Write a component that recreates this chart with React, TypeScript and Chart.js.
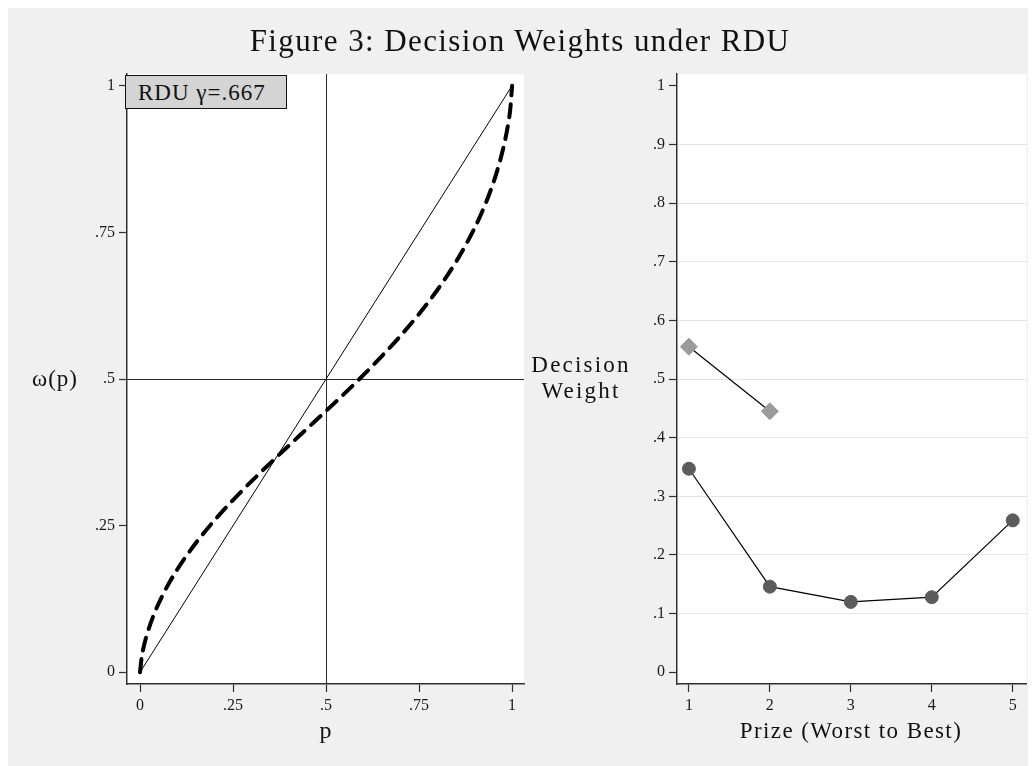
import React, { useEffect, useRef } from 'react';
import { Chart, registerables } from 'chart.js';

Chart.register(...registerables);

const SERIF = "'Liberation Serif', 'Times New Roman', serif";

// Left panel: probability weighting function vs. the 45-degree line
const probGrid = [0, 0.005, 0.01, 0.02, 0.04, 0.06, 0.08, 0.1, 0.15, 0.2, 0.25, 0.3, 0.35, 0.4, 0.45, 0.5, 0.55, 0.6, 0.65, 0.7, 0.75, 0.8, 0.85, 0.9, 0.92, 0.94, 0.96, 0.98, 0.99, 0.995, 1];
const weightedProb = [0, 0.0281, 0.0437, 0.0674, 0.1027, 0.1305, 0.1542, 0.1752, 0.2203, 0.2589, 0.2936, 0.3259, 0.3566, 0.3865, 0.416, 0.4455, 0.4755, 0.5065, 0.539, 0.5735, 0.611, 0.6526, 0.7005, 0.7584, 0.786, 0.8175, 0.8552, 0.9038, 0.937, 0.9592, 1];
const identityProb = [0, 1];
const crossAt = 0.5;
const curveLabel = 'RDU γ=.667';

const pTicks = [0, 0.25, 0.5, 0.75, 1];
const pTickLabels = ['0', '.25', '.5', '.75', '1'];

// Right panel: decision weights by prize rank
const prizesTwo = [1, 2];
const weightsTwo = [0.555, 0.445];
const prizesFive = [1, 2, 3, 4, 5];
const weightsFive = [0.347, 0.146, 0.12, 0.128, 0.259];

const prizeTicks = [1, 2, 3, 4, 5];
const prizeTickLabels = ['1', '2', '3', '4', '5'];
const weightTicks = [0, 0.1, 0.2, 0.3, 0.4, 0.5, 0.6, 0.7, 0.8, 0.9, 1];
const weightTickLabels = ['0', '.1', '.2', '.3', '.4', '.5', '.6', '.7', '.8', '.9', '1'];

const TICK_FONT = { family: SERIF, size: 16 };

const whitePlot = {
  id: 'whitePlot',
  beforeDraw(chart: any) {
    const { ctx, chartArea: a } = chart;
    ctx.save();
    ctx.fillStyle = '#ffffff';
    ctx.fillRect(a.left, a.top, a.right - a.left, a.bottom - a.top);
    ctx.restore();
  },
};

const crosshair = {
  id: 'crosshair',
  beforeDatasetsDraw(chart: any) {
    const { ctx, chartArea: a, scales } = chart;
    const x = Math.round(scales.x.getPixelForValue(crossAt)) + 0.5;
    const y = Math.round(scales.y.getPixelForValue(crossAt)) + 0.5;
    ctx.save();
    ctx.strokeStyle = '#2a2a2a';
    ctx.lineWidth = 1;
    ctx.beginPath();
    ctx.moveTo(x, a.top);
    ctx.lineTo(x, a.bottom);
    ctx.moveTo(a.left, y);
    ctx.lineTo(a.right, y);
    ctx.stroke();
    ctx.restore();
  },
};

function fixedTicks(values: number[], labels: string[]) {
  return {
    afterBuildTicks: (scale: any) => {
      scale.ticks = values.map((v) => ({ value: v }));
    },
    ticks: {
      autoSkip: false,
      maxRotation: 0,
      font: TICK_FONT,
      color: '#1a1a1a',
      padding: 4,
      callback: (v: any) => labels[values.indexOf(Number(v))] ?? '',
    },
  };
}

function axisBorder() {
  return { display: true, color: '#303030', width: 1.5 };
}

function Label(props: { x: number; y: number; size: number; spacing: number; children: React.ReactNode; lh?: number }) {
  return (
    <div
      style={{
        position: 'absolute',
        left: props.x,
        top: props.y,
        transform: 'translate(-50%, -50%)',
        fontFamily: SERIF,
        fontSize: props.size,
        letterSpacing: props.spacing,
        lineHeight: `${props.lh ?? props.size}px`,
        color: '#111',
        whiteSpace: 'nowrap',
        textAlign: 'center',
      }}
    >
      {props.children}
    </div>
  );
}

export default function App() {
  const leftRef = useRef<HTMLCanvasElement>(null);
  const rightRef = useRef<HTMLCanvasElement>(null);

  useEffect(() => {
    const left = new Chart(leftRef.current as HTMLCanvasElement, {
      type: 'line',
      data: {
        datasets: [
          {
            label: curveLabel,
            data: probGrid.map((p, i) => ({ x: p, y: weightedProb[i] })),
            borderColor: '#000',
            borderWidth: 4,
            borderDash: [13, 9],
            borderCapStyle: 'round',
            cubicInterpolationMode: 'monotone',
            pointRadius: 0,
            fill: false,
            order: 0,
          },
          {
            label: 'identity',
            data: identityProb.map((p) => ({ x: p, y: p })),
            borderColor: '#000',
            borderWidth: 1,
            pointRadius: 0,
            fill: false,
            order: 1,
          },
        ],
      },
      options: {
        animation: false,
        responsive: false,
        events: [],
        layout: { padding: { top: 36, right: 22, left: 0, bottom: 0 } },
        plugins: { legend: { display: false }, tooltip: { enabled: false } },
        scales: {
          x: {
            type: 'linear',
            min: -0.035,
            max: 1.032,
            ...fixedTicks(pTicks, pTickLabels),
            afterFit: (s: any) => {
              s.height = 54;
            },
            grid: { drawOnChartArea: false, drawTicks: true, tickLength: 8, tickColor: '#303030', tickWidth: 1.2 },
            border: axisBorder(),
          },
          y: {
            type: 'linear',
            min: -0.02,
            max: 1.02,
            ...fixedTicks(pTicks, pTickLabels),
            afterFit: (s: any) => {
              s.width = 121;
            },
            grid: { drawOnChartArea: false, drawTicks: true, tickLength: 8, tickColor: '#303030', tickWidth: 1.2 },
            border: axisBorder(),
          },
        },
      } as any,
      plugins: [whitePlot, crosshair],
    });

    const right = new Chart(rightRef.current as HTMLCanvasElement, {
      type: 'line',
      data: {
        datasets: [
          {
            label: 'two prizes',
            data: prizesTwo.map((k, i) => ({ x: k, y: weightsTwo[i] })),
            borderColor: '#000',
            borderWidth: 1.2,
            pointStyle: 'rectRot',
            pointRadius: 8.5,
            pointBackgroundColor: '#9b9b9b',
            pointBorderColor: '#9b9b9b',
            pointBorderWidth: 1,
            fill: false,
          },
          {
            label: 'five prizes',
            data: prizesFive.map((k, i) => ({ x: k, y: weightsFive[i] })),
            borderColor: '#000',
            borderWidth: 1.2,
            pointStyle: 'circle',
            pointRadius: 6.5,
            pointBackgroundColor: '#5c5c5c',
            pointBorderColor: '#5c5c5c',
            pointBorderWidth: 1,
            fill: false,
          },
        ],
      },
      options: {
        animation: false,
        responsive: false,
        events: [],
        layout: { padding: { top: 36, right: 7, left: 0, bottom: 0 } },
        plugins: { legend: { display: false }, tooltip: { enabled: false } },
        scales: {
          x: {
            type: 'linear',
            min: 0.853,
            max: 5.17,
            ...fixedTicks(prizeTicks, prizeTickLabels),
            afterFit: (s: any) => {
              s.height = 54;
            },
            grid: { drawOnChartArea: false, drawTicks: true, tickLength: 8, tickColor: '#303030', tickWidth: 1.2 },
            border: axisBorder(),
          },
          y: {
            type: 'linear',
            min: -0.02,
            max: 1.02,
            ...fixedTicks(weightTicks, weightTickLabels),
            afterFit: (s: any) => {
              s.width = 121;
            },
            grid: {
              drawOnChartArea: true,
              drawTicks: true,
              tickLength: 8,
              tickColor: '#303030',
              tickWidth: 1.2,
              lineWidth: 1,
              color: (c: any) => {
                const v = c.tick ? c.tick.value : null;
                return v === 0 || v === 1 ? 'rgba(0,0,0,0)' : '#e4e4e4';
              },
            },
            border: axisBorder(),
          },
        },
      } as any,
      plugins: [whitePlot],
    });

    return () => {
      left.destroy();
      right.destroy();
    };
  }, []);

  return (
    <div style={{ position: 'relative', marginLeft: -2, width: 1030, height: 758, background: '#f0f0f0', overflow: 'hidden' }}>
      <canvas ref={leftRef} width={540} height={700} style={{ position: 'absolute', left: 0, top: 30, width: 540, height: 700 }} />
      <canvas ref={rightRef} width={480} height={700} style={{ position: 'absolute', left: 550, top: 30, width: 480, height: 700 }} />

      <Label x={514} y={32} size={31} spacing={1.4}>Figure 3: Decision Weights under RDU</Label>

      <div
        style={{
          position: 'absolute',
          left: 119,
          top: 67,
          width: 148,
          height: 32,
          background: '#d4d4d4',
          border: '1px solid #111',
          fontFamily: SERIF,
          fontSize: 23,
          letterSpacing: 1,
          lineHeight: '33px',
          paddingLeft: 12,
          boxSizing: 'content-box',
          color: '#111',
          whiteSpace: 'nowrap',
        }}
      >
        {curveLabel}
      </div>

      <Label x={49} y={370} size={23} spacing={1}>ω(p)</Label>
      <Label x={320} y={722} size={24} spacing={1}>p</Label>
      <Label x={845} y={722} size={23} spacing={1.4}>Prize (Worst to Best)</Label>
      <Label x={575} y={370} size={23} spacing={2.2} lh={26}>
        Decision
        <br />
        Weight
      </Label>
    </div>
  );
}
